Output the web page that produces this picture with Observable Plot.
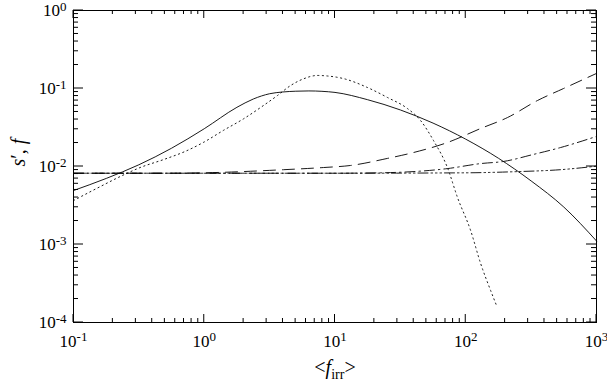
<!DOCTYPE html>
<html><head><meta charset="utf-8">
<script src="https://cdn.jsdelivr.net/npm/d3@7"></script>
<script src="https://cdn.jsdelivr.net/npm/@observablehq/plot@0.6"></script>
<style>body{margin:0;background:#fff}</style>
</head><body><div id="chart"></div>
<script>
// ---- data ----
const xMajor = [0.1, 1, 10, 100, 1000];
const yMajor = [1e-4, 1e-3, 1e-2, 1e-1, 1];

const solidX = [0.1, 0.178, 0.316, 0.562, 1.0, 1.778, 2.371, 3.162, 3.981, 5.012, 6.31, 7.943, 10, 17.78, 31.62, 56.23, 100, 177.8, 316.2, 562.3, 1000];
const solidY = [0.00492, 0.00703, 0.01052, 0.01714, 0.0305, 0.0574, 0.0733, 0.0857, 0.0902, 0.0923, 0.0931, 0.092, 0.0891, 0.0718, 0.0531, 0.036, 0.0224, 0.01276, 0.00653, 0.00302, 0.00111];

const dotX = [0.1, 0.147, 0.251, 0.316, 0.501, 0.708, 1.0, 1.40, 2.00, 2.84, 3.63, 4.57, 5.74, 7.35, 8.77, 11.6, 17.7, 25.2, 35.8, 45.1, 56.6, 72.4, 86.5, 109, 130, 155, 172];
const dotY = [0.00366, 0.00513, 0.00804, 0.00955, 0.01245, 0.0155, 0.02065, 0.029, 0.0409, 0.0606, 0.0813, 0.109, 0.133, 0.147, 0.1446, 0.134, 0.103, 0.0767, 0.0554, 0.0389, 0.0216, 0.0097, 0.004, 0.00151, 0.00057, 0.000257, 0.000165];

const dashX = [0.1, 0.5, 1.0, 4.04, 8.17, 13.1, 25.2, 39.8, 72.4, 130, 209, 354, 560, 1000];
const dashY = [0.0082, 0.0082, 0.0083, 0.0091, 0.0097, 0.0103, 0.0127, 0.0151, 0.0203, 0.0307, 0.0425, 0.0702, 0.1, 0.156];

const dashDotX = [0.1, 1, 10, 22.3, 72.4, 130, 194, 330, 531, 1000];
const dashDotY = [0.0082, 0.0082, 0.0082, 0.0083, 0.0094, 0.0109, 0.0116, 0.0143, 0.0175, 0.0243];

const dash3DotX = [0.1, 1, 10, 100, 249, 531, 1000];
const dash3DotY = [0.0082, 0.0082, 0.0082, 0.0083, 0.0086, 0.0091, 0.0101];

const series = [
  {name: "solid", xs: solidX, ys: solidY, dash: null},
  {name: "dotted", xs: dotX, ys: dotY, dash: "1.2,3.4"},
  {name: "dashed", xs: dashX, ys: dashY, dash: "12,7"},
  {name: "dashdot", xs: dashDotX, ys: dashDotY, dash: "10,4,1.5,4"},
  {name: "dash3dot", xs: dash3DotX, ys: dash3DotY, dash: "10,3,1.5,3,1.5,3,1.5,3"}
];

const minorOf = (majors) => {
  const out = [];
  for (let i = 0; i < majors.length - 1; i++) for (let k = 2; k <= 9; k++) out.push(majors[i] * k);
  return out;
};
const xMinor = minorOf(xMajor), yMinor = minorOf(yMajor);

// inward ticks on all four sides, positioned by Plot's scales
function innerTicks(index, scales, values, dims) {
  const {width, height, marginLeft, marginRight, marginTop, marginBottom} = dims;
  const L = marginLeft, R = width - marginRight, T = marginTop, B = height - marginBottom;
  const g = d3.create("svg:g").attr("stroke", "#000").attr("stroke-width", 1).attr("fill", "none");
  const xt = (v, len) => {
    const px = scales.x(v);
    g.append("line").attr("x1", px).attr("x2", px).attr("y1", B).attr("y2", B - len);
    g.append("line").attr("x1", px).attr("x2", px).attr("y1", T).attr("y2", T + len);
  };
  const yt = (v, len) => {
    const py = scales.y(v);
    g.append("line").attr("y1", py).attr("y2", py).attr("x1", L).attr("x2", L + len);
    g.append("line").attr("y1", py).attr("y2", py).attr("x1", R).attr("x2", R - len);
  };
  xMajor.forEach(v => xt(v, 8));
  xMinor.forEach(v => xt(v, 4));
  yMajor.forEach(v => yt(v, 10));
  yMinor.forEach(v => yt(v, 5));
  return g.node();
}

const expFmt = d => String(Math.round(Math.log10(d)));

const marks = [
  ...series.map(s => Plot.line(s.xs.map((x, i) => ({x, y: s.ys[i]})), {
    x: "x", y: "y", stroke: "#000", strokeWidth: 0.9, curve: "monotone-x",
    strokeDasharray: s.dash ?? undefined
  })),
  Plot.axisX(xMajor, {anchor: "bottom", tickSize: 0, tickPadding: 12, tickFormat: expFmt, fontSize: 17, label: null}),
  Plot.axisY(yMajor, {anchor: "left", tickSize: 0, tickPadding: 7, tickFormat: expFmt, fontSize: 17, label: null}),
  Plot.frame({stroke: "#000", strokeWidth: 1}),
  innerTicks,
  Plot.text(["YLABEL"], {frameAnchor: "left", dx: -55, rotate: -90, fontSize: 20}),
  Plot.text(["XLABEL"], {frameAnchor: "bottom", dy: 51, fontSize: 20})
];

const chart = Plot.plot({
  width: 607, height: 386,
  marginLeft: 73, marginRight: 11, marginTop: 10, marginBottom: 64,
  style: {fontFamily: "Liberation Serif, serif", fontSize: "17px", background: "#fff", color: "#000"},
  x: {type: "log", domain: [0.1, 1000]},
  y: {type: "log", domain: [1e-4, 1]},
  marks
});

// superscript exponents in tick labels
const NS = "http://www.w3.org/2000/svg";
const span = (parent, txt, attrs) => {
  const ts = document.createElementNS(NS, "tspan");
  for (const k in attrs) ts.setAttribute(k, attrs[k]);
  ts.textContent = txt;
  parent.appendChild(ts);
};
chart.querySelectorAll('g[aria-label="x-axis tick label"] text, g[aria-label="y-axis tick label"] text').forEach(t => {
  const e = t.textContent;
  t.textContent = "10";
  span(t, e, {dy: "-0.4em", "font-size": 13});
});
chart.querySelectorAll("text").forEach(t => {
  if (t.textContent === "XLABEL") {
    t.textContent = "<";
    span(t, "f", {"font-style": "italic"});
    span(t, "irr", {dy: "5", "font-size": 14});
    span(t, ">", {dy: "-5"});
  } else if (t.textContent === "YLABEL") {
    t.textContent = "";
    span(t, "s", {"font-style": "italic"});
    span(t, "′, ", {});
    span(t, "f", {"font-style": "italic"});
  }
});
document.getElementById("chart").appendChild(chart);
</script>
</body></html>
